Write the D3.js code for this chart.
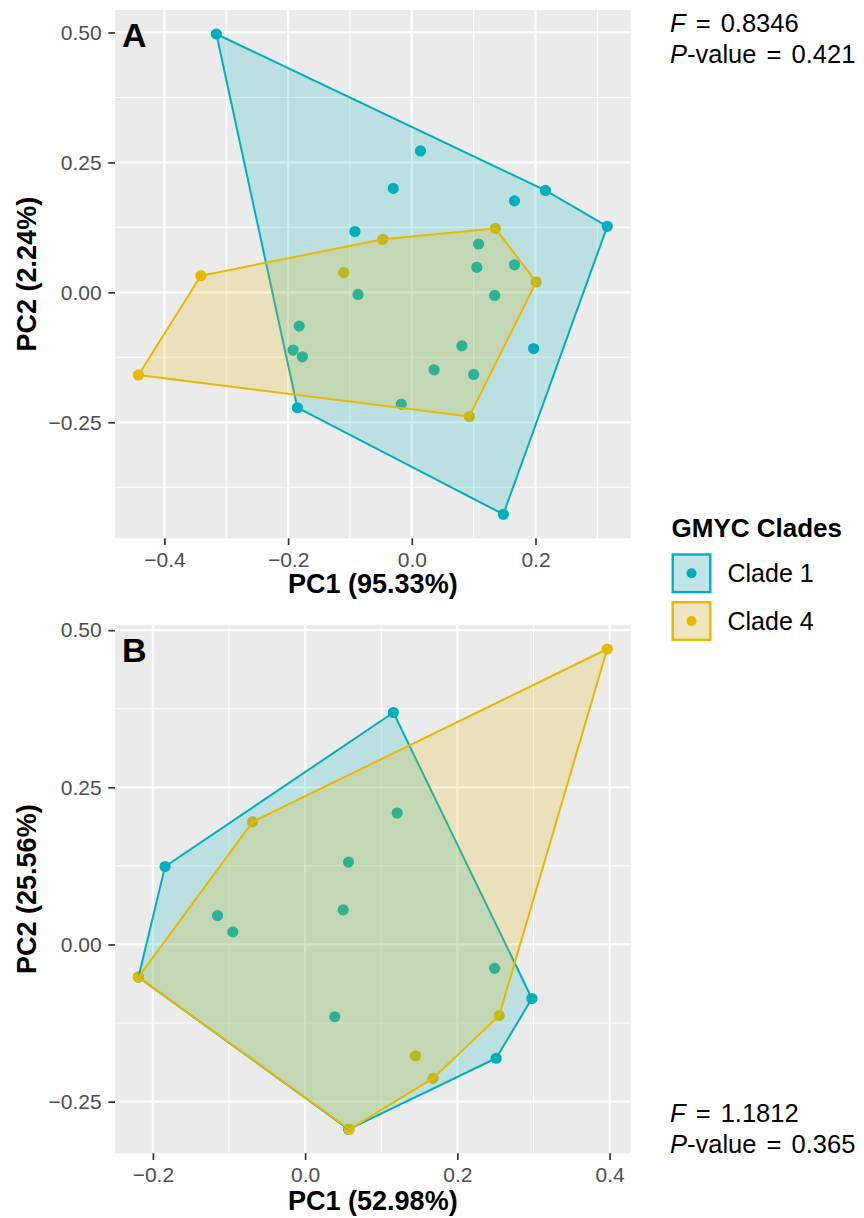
<!DOCTYPE html>
<html>
<head>
<meta charset="utf-8">
<script src="https://cdn.jsdelivr.net/npm/d3@7"></script>
<style>
  body { margin: 0; background: #fff; }
  svg { display: block; font-family: "Liberation Sans", Arial, Helvetica, sans-serif; }
</style>
</head>
<body>
<svg id="chart"></svg>
<script>
// PCA scores, [PC1, PC2]
const aClade1 = [
  [-0.316, 0.497], [0.014, 0.272], [-0.030, 0.200], [0.216, 0.196], [0.166, 0.176],
  [0.316, 0.127], [-0.092, 0.117], [0.108, 0.093], [0.105, 0.048], [0.166, 0.053],
  [-0.087, -0.004], [0.134, -0.006], [-0.182, -0.065], [-0.192, -0.111], [-0.177, -0.124],
  [0.081, -0.103], [0.036, -0.149], [0.100, -0.158], [0.197, -0.108], [-0.185, -0.222],
  [-0.017, -0.215], [0.148, -0.427]
];
const aClade4 = [
  [0.135, 0.123], [-0.047, 0.102], [-0.341, 0.032], [-0.110, 0.038],
  [0.201, 0.020], [-0.442, -0.159], [0.093, -0.239]
];
const bClade1 = [
  [0.116, 0.369], [0.121, 0.209], [-0.184, 0.124], [0.057, 0.131], [0.050, 0.055],
  [-0.115, 0.046], [-0.095, 0.020], [-0.219, -0.052], [0.249, -0.038], [0.298, -0.086],
  [0.039, -0.115], [0.251, -0.181], [0.057, -0.294]
];
const bClade4 = [
  [0.397, 0.470], [-0.069, 0.195], [-0.219, -0.052], [0.255, -0.113],
  [0.145, -0.177], [0.168, -0.213], [0.058, -0.294]
];

const clades = ['Clade 1', 'Clade 4'];
const xTicksA = [-0.4, -0.2, 0.0, 0.2];
const yTicksA = [-0.25, 0.00, 0.25, 0.50];
const xTicksB = [-0.2, 0.0, 0.2, 0.4];
const yTicksB = [-0.25, 0.00, 0.25, 0.50];
const statsA = { F: '0.8346', P: '0.421' };
const statsB = { F: '1.1812', P: '0.365' };

const colors = ['#00AFBB', '#E7B800'];
const W = 864, H = 1218;
const panelLeft = 115, panelRight = 630.7, panelH = 528.3;

const svg = d3.select('#chart').attr('width', W).attr('height', H);

const panels = [
  { tag: 'A', top: 10, groups: [aClade1, aClade4], xTicks: xTicksA, yTicks: yTicksA,
    xTitle: 'PC1 (95.33%)', yTitle: 'PC2 (2.24%)' },
  { tag: 'B', top: 625, groups: [bClade1, bClade4], xTicks: xTicksB, yTicks: yTicksB,
    xTitle: 'PC1 (52.98%)', yTitle: 'PC2 (25.56%)' }
];

// ggplot-style 5% expansion of the data range
function expand(vals) {
  const [lo, hi] = d3.extent(vals);
  const pad = (hi - lo) * 0.05;
  return [lo - pad, hi + pad];
}

function minorOf(ticks, domain) {
  const step = ticks[1] - ticks[0];
  const out = [];
  for (let i = -1; i < ticks.length; i++) {
    const v = ticks[0] + step * (i + 0.5);
    if (v >= domain[0] && v <= domain[1]) out.push(v);
  }
  return out;
}

panels.forEach(p => {
  const all = p.groups[0].concat(p.groups[1]);
  const bottom = p.top + panelH;
  const x = d3.scaleLinear().domain(expand(all.map(d => d[0]))).range([panelLeft, panelRight]);
  const y = d3.scaleLinear().domain(expand(all.map(d => d[1]))).range([bottom, p.top]);

  const g = svg.append('g');
  g.append('rect')
    .attr('x', panelLeft).attr('y', p.top)
    .attr('width', panelRight - panelLeft).attr('height', panelH)
    .attr('fill', '#EBEBEB');

  // grid
  const grid = g.append('g').attr('stroke', '#fff').attr('fill', 'none');
  minorOf(p.xTicks, x.domain()).forEach(v => {
    grid.append('line').attr('x1', x(v)).attr('x2', x(v)).attr('y1', p.top).attr('y2', bottom).attr('stroke-width', 1.1);
  });
  minorOf(p.yTicks, y.domain()).forEach(v => {
    grid.append('line').attr('y1', y(v)).attr('y2', y(v)).attr('x1', panelLeft).attr('x2', panelRight).attr('stroke-width', 1.1);
  });
  p.xTicks.forEach(v => {
    grid.append('line').attr('x1', x(v)).attr('x2', x(v)).attr('y1', p.top).attr('y2', bottom).attr('stroke-width', 2.2);
  });
  p.yTicks.forEach(v => {
    grid.append('line').attr('y1', y(v)).attr('y2', y(v)).attr('x1', panelLeft).attr('x2', panelRight).attr('stroke-width', 2.2);
  });

  // points first, hulls (translucent) over them
  p.groups.forEach((pts, i) => {
    g.append('g').selectAll('circle')
      .data(pts)
      .enter()
      .append('circle')
      .attr('cx', d => x(d[0]))
      .attr('cy', d => y(d[1]))
      .attr('r', 5.6)
      .attr('fill', colors[i]);
  });
  p.groups.forEach((pts, i) => {
    const hull = d3.polygonHull(pts.map(d => [x(d[0]), y(d[1])]));
    g.append('path')
      .attr('d', 'M' + hull.join('L') + 'Z')
      .attr('fill', colors[i])
      .attr('fill-opacity', 0.2)
      .attr('stroke', colors[i])
      .attr('stroke-width', 2)
      .attr('stroke-linejoin', 'round');
  });

  // axes
  const xAxis = g.append('g')
    .attr('transform', `translate(0,${bottom})`)
    .call(d3.axisBottom(x).tickValues(p.xTicks).tickFormat(d3.format('.1f')).tickSize(6.7).tickPadding(6.8));
  const yAxis = g.append('g')
    .attr('transform', `translate(${panelLeft},0)`)
    .call(d3.axisLeft(y).tickValues(p.yTicks).tickFormat(d3.format('.2f')).tickSize(6.7).tickPadding(6.6));
  [xAxis, yAxis].forEach(a => {
    a.select('.domain').remove();
    a.attr('font-family', null).attr('font-size', null);
    a.selectAll('.tick line').attr('stroke', '#333').attr('stroke-width', 1.7);
    a.selectAll('.tick text').attr('fill', '#4D4D4D').style('font-size', '21px');
  });

  g.append('text')
    .attr('x', (panelLeft + panelRight) / 2)
    .attr('y', bottom + (p.tag === 'A' ? 54.7 : 56.7))
    .attr('text-anchor', 'middle')
    .style('font-size', '27px').style('font-weight', 'bold')
    .text(p.xTitle);
  g.append('text')
    .attr('transform', `translate(36,${p.top + panelH / 2}) rotate(-90)`)
    .attr('text-anchor', 'middle')
    .style('font-size', '27px').style('font-weight', 'bold')
    .text(p.yTitle);

  g.append('text')
    .attr('x', 122).attr('y', p.top + 37)
    .style('font-size', '34px').style('font-weight', 'bold')
    .text(p.tag);
});

// F statistic / P-value notes
function stats(s, base) {
  const t = svg.append('text').attr('x', 670).attr('y', base)
    .style('font-size', '25.5px').style('word-spacing', '3px');
  t.append('tspan').style('font-style', 'italic').text('F');
  t.append('tspan').text(' = ' + s.F);
  const t2 = svg.append('text').attr('x', 670).attr('y', base + 31.6)
    .style('font-size', '25.5px').style('word-spacing', '3px');
  t2.append('tspan').style('font-style', 'italic').text('P');
  t2.append('tspan').text('-value = ' + s.P);
}
stats(statsA, 31.7);
stats(statsB, 1121.7);

// legend
const leg = svg.append('g').attr('transform', 'translate(671.5,0)');
leg.append('text').attr('x', 0).attr('y', 536.7)
  .style('font-size', '26px').style('font-weight', 'bold')
  .text('GMYC Clades');
clades.forEach((c, i) => {
  const top = 553.3 + i * 47.7;
  leg.append('rect').attr('x', 1.2).attr('y', top + 1.2).attr('width', 37.6).attr('height', 37.6)
    .attr('fill', '#F2F2F2');
  leg.append('rect').attr('x', 1.2).attr('y', top + 1.2).attr('width', 37.6).attr('height', 37.6)
    .attr('fill', colors[i]).attr('fill-opacity', 0.2)
    .attr('stroke', colors[i]).attr('stroke-width', 2.4);
  leg.append('circle').attr('cx', 20).attr('cy', top + 20).attr('r', 5).attr('fill', colors[i]);
  leg.append('text').attr('x', 56).attr('y', top + 29)
    .style('font-size', '25px')
    .text(c);
});
</script>
</body>
</html>
